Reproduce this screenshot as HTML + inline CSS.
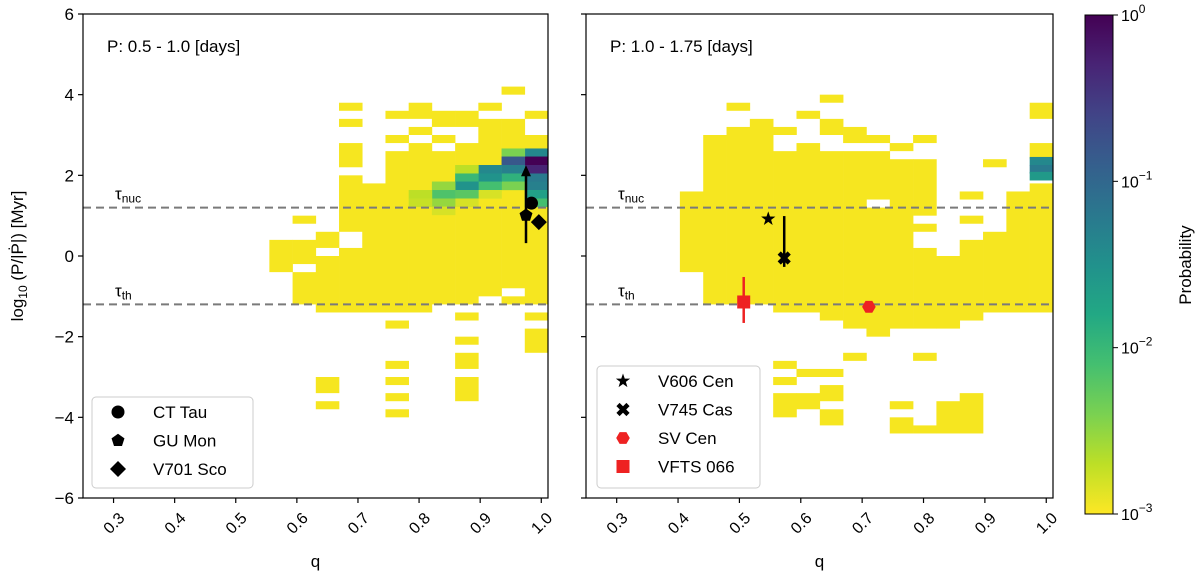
<!DOCTYPE html>
<html><head><meta charset="utf-8"><style>
html,body{margin:0;padding:0;background:#fff;}
svg{display:block;font-family:"Liberation Sans","DejaVu Sans",sans-serif;}
</style></head><body>
<svg id="chart" width="1200" height="576" viewBox="0 0 1200 576" xmlns="http://www.w3.org/2000/svg">
<defs>
<linearGradient id="cbgrad" x1="0" y1="1" x2="0" y2="0">
<stop offset="0" stop-color="#fde725"/><stop offset="0.1" stop-color="#bddf26"/><stop offset="0.2" stop-color="#7ad151"/><stop offset="0.3" stop-color="#44bf70"/><stop offset="0.4" stop-color="#22a884"/><stop offset="0.5" stop-color="#21918c"/><stop offset="0.6" stop-color="#2a788e"/><stop offset="0.7" stop-color="#355f8d"/><stop offset="0.8" stop-color="#414487"/><stop offset="0.9" stop-color="#482475"/><stop offset="1" stop-color="#440154"/>
</linearGradient>
</defs>
</svg>
<script>
// ---- data ----
const xTicks = [0.3,0.4,0.5,0.6,0.7,0.8,0.9,1.0];
const yTicks = [6,4,2,0,-2,-4,-6];
const binStart = 0.403, binWidth = 0.038;
// yellow (lowest-probability) ranges per q-bin: [binIndex, logLow, logHigh]
const leftYellow = [
 [4,-0.4,0.4],
 [5,0.8,1.0],[5,-0.2,0.4],[5,-1.2,-0.4],
 [6,0.2,0.6],[6,-1.4,0],[6,-3.4,-3.0],[6,-3.8,-3.6],
 [7,3.6,3.8],[7,3.2,3.4],[7,2.2,2.8],[7,0.6,2.0],[7,-1.4,0.2],
 [8,-1.4,1.8],
 [9,3.4,3.6],[9,2.8,3.0],[9,-1.4,2.6],[9,-1.8,-1.6],[9,-2.8,-2.6],[9,-3.2,-3.0],[9,-3.6,-3.4],[9,-4.0,-3.8],
 [10,3.4,3.8],[10,3.0,3.2],[10,-1.4,2.8],
 [11,3.2,3.6],[11,2.8,3.0],[11,-1.2,2.6],
 [12,3.2,3.6],[12,-1.2,2.8],[12,-1.6,-1.4],[12,-2.2,-2.0],[12,-2.8,-2.4],[12,-3.6,-3.0],
 [13,3.6,3.8],[13,-1.0,3.4],
 [14,4.0,4.2],[14,-0.8,3.4],[14,-1.2,-1.0],
 [15,3.4,3.6],[15,-1.2,3.0],[15,-1.6,-1.4],[15,-2.4,-1.8]
];
const rightYellow = [
 [0,-0.4,1.6],
 [1,-1.2,3.0],
 [2,3.6,3.8],[2,-1.2,3.2],
 [3,-1.2,3.4],
 [4,3.0,3.2],[4,-1.4,2.6],[4,-2.8,-2.6],[4,-3.2,-3.0],[4,-4.0,-3.4],
 [5,3.4,3.6],[5,-1.4,2.8],[5,-3.0,-2.8],[5,-3.8,-3.4],
 [6,3.8,4.0],[6,3.0,3.4],[6,-1.6,2.6],[6,-3.0,-2.8],[6,-3.6,-3.2],[6,-4.2,-3.8],
 [7,2.8,3.2],[7,-1.8,2.6],[7,-2.6,-2.4],
 [8,2.8,3.0],[8,1.4,2.6],[8,-2.0,1.2],
 [9,2.6,2.8],[9,-1.8,2.4],[9,-3.8,-3.6],[9,-4.4,-4.0],
 [10,2.8,3.0],[10,1.0,2.4],[10,0.6,0.8],[10,-1.8,0.2],[10,-2.6,-2.4],[10,-4.4,-4.2],
 [11,-1.8,0],[11,-4.4,-3.6],
 [12,1.4,1.6],[12,0.8,1.0],[12,-1.6,0.4],[12,-4.4,-3.4],
 [13,2.2,2.4],[13,-1.4,0.6],
 [14,-1.4,1.6],
 [15,3.4,3.8],[15,2.4,2.8],[15,-1.4,1.8]
];
// higher probability cells: [binIndex, logLow, probability]
const leftCells = [
 [15,2.46,0.04],[15,2.26,1.0],[15,2.05,0.5],[15,1.84,0.06],[15,1.64,0.05],[15,1.43,0.02],[15,1.22,0.008],
 [14,2.46,0.004],[14,2.26,0.15],[14,2.05,0.05],[14,1.84,0.012],[14,1.64,0.004],
 [13,2.05,0.04],[13,1.84,0.03],[13,1.64,0.008],[13,1.43,0.0015],
 [12,2.05,0.002],[12,1.84,0.01],[12,1.64,0.03],[12,1.43,0.006],[12,1.22,0.0015],
 [11,1.64,0.003],[11,1.43,0.007],[11,1.22,0.003],[11,1.02,0.0015],
 [10,1.43,0.002],[10,1.22,0.0018]
];
const rightCells = [[15,2.25,0.04],[15,2.05,0.06],[15,1.88,0.025]];
const cellHeight = 0.206;
const tauNuc = 1.2, tauTh = -1.2;
// stars
const leftStars = [
 {name:"CT Tau", q:0.984, v:1.31, shape:"circle"},
 {name:"GU Mon", q:0.975, v:1.01, shape:"pentagon", lo:0.32, hi:2.25, arrow:true},
 {name:"V701 Sco", q:0.996, v:0.84, shape:"diamond"}
];
const rightStars = [
 {name:"V606 Cen", q:0.547, v:0.92, shape:"star", color:"#000"},
 {name:"V745 Cas", q:0.573, v:-0.05, shape:"x", color:"#000", lo:-0.27, hi:0.99},
 {name:"SV Cen", q:0.711, v:-1.26, shape:"hex", color:"#ee2222"},
 {name:"VFTS 066", q:0.507, v:-1.14, shape:"square", color:"#ee2222", lo:-1.66, hi:-0.52}
];
const cbTicks = [0,-1,-2,-3];

// ---- drawing ----
const svg = document.getElementById('chart');
const NS = 'http://www.w3.org/2000/svg';
function mk(tag, attrs, parent){const e=document.createElementNS(NS,tag);for(const k in attrs)e.setAttribute(k,attrs[k]);(parent||svg).appendChild(e);return e;}
const TOP=14, BOT=498;
function yS(v){return TOP+(6-v)*(BOT-TOP)/12;}
const vir=['#440154','#482475','#414487','#355f8d','#2a788e','#21918c','#22a884','#44bf70','#7ad151','#bddf26','#fde725'];
function hx(c){return [1,3,5].map(i=>parseInt(c.substr(i,2),16));}
function color(p){let t=(Math.log10(p)+3)/3;t=Math.max(0,Math.min(1,t));let u=(1-t)*10;let i=Math.min(9,Math.floor(u));let f=u-i;let a=hx(vir[i]),b=hx(vir[i+1]);return 'rgb('+a.map((x,j)=>Math.round(x+(b[j]-x)*f)).join(',')+')';}
const YEL='#f6e620';

function panel(x0,x1,yellow,cells,stars,title,showYLabels,legendBox,pname){
  const g=mk('g',{});
  
  
  const xS=q=>x0+(q-0.25)*(x1-x0)/(1.011-0.25);
  yellow.forEach(r=>{const qa=binStart+r[0]*binWidth;const e=mk('rect',{x:xS(qa),y:yS(r[2]),width:xS(qa+binWidth)-xS(qa)+0.3,height:yS(r[1])-yS(r[2]),fill:YEL},g);
    
    });
  cells.forEach(c=>{const qa=binStart+c[0]*binWidth;const e=mk('rect',{x:xS(qa),y:yS(c[1]+cellHeight),width:xS(qa+binWidth)-xS(qa)+0.3,height:yS(c[1])-yS(c[1]+cellHeight)+0.3,fill:color(c[2])},g);
    
    });
  [[tauNuc,'nuc'],[tauTh,'th']].forEach(t=>{
    const l=mk('line',{x1:x0,x2:x1,y1:yS(t[0]),y2:yS(t[0]),stroke:'#7a7a7a','stroke-width':2,'stroke-dasharray':'8,5'},g);
    
    
    const tx=mk('text',{x:x0+32,y:yS(t[0])-8,'font-size':17,fill:'#000'},g);
    
    
    tx.innerHTML='τ<tspan font-size="12" dy="3">'+t[1]+'</tspan>';
  });
  // frame
  const fr=mk('rect',{x:x0,y:TOP,width:x1-x0,height:BOT-TOP,fill:'none',stroke:'#000','stroke-width':1.2},g);
  
  
  yTicks.forEach(v=>{mk('line',{x1:x0-5,x2:x0,y1:yS(v),y2:yS(v),stroke:'#000','stroke-width':1.2},g);
    if(showYLabels){const t=mk('text',{x:x0-9,y:yS(v)+6,'text-anchor':'end','font-size':17},g);t.textContent=v<0?'−'+(-v):String(v);
      
      }});
  xTicks.forEach(q=>{const x=xS(q);mk('line',{x1:x,x2:x,y1:BOT,y2:BOT+5,stroke:'#000','stroke-width':1.2},g);
    const t=mk('text',{x:x+3,y:BOT+12,'text-anchor':'end','font-size':16,transform:'rotate(-45 '+(x+3)+' '+(BOT+12)+')',dy:'0.8em'},g);t.textContent=q.toFixed(1);
    
    });
  const xl=mk('text',{x:(x0+x1)/2,y:567,'text-anchor':'middle','font-size':17},g);xl.textContent='q';
  
  
  const ti=mk('text',{x:x0+24,y:52,'font-size':17},g);ti.textContent=title;
  
  
  // markers
  function marker(shape,cx,cy,col,par){
    let e;
    if(shape==='circle')e=mk('circle',{cx:cx,cy:cy,r:6.5,fill:col},par);
    else if(shape==='square')e=mk('rect',{x:cx-6.5,y:cy-6.5,width:13,height:13,fill:col},par);
    else if(shape==='diamond')e=mk('polygon',{points:[[cx,cy-8],[cx+8,cy],[cx,cy+8],[cx-8,cy]].join(' '),fill:col},par);
    else{let n=shape==='pentagon'?5:shape==='hex'?6:5,pts=[];
      if(shape==='star'){for(let i=0;i<10;i++){const r=i%2?3:7.5,a=-Math.PI/2+i*Math.PI/5;pts.push([cx+r*Math.cos(a),cy+r*Math.sin(a)]);}}
      else if(shape==='x'){e=mk('path',{d:'M'+(cx-5)+' '+(cy-5)+'L'+(cx+5)+' '+(cy+5)+'M'+(cx+5)+' '+(cy-5)+'L'+(cx-5)+' '+(cy+5),stroke:col,'stroke-width':4.5},par);return e;}
      else{const r=shape==='hex'?6.8:6.8;for(let i=0;i<n;i++){const a=-Math.PI/2+i*2*Math.PI/n+(shape==='hex'?Math.PI/6:0);pts.push([cx+r*Math.cos(a),cy+r*Math.sin(a)]);}}
      e=mk('polygon',{points:pts.map(p=>p.join(',')).join(' '),fill:col},par);}
    return e;
  }
  stars.forEach(s=>{const col=s.color||'#000';const cx=xS(s.q),cy=yS(s.v);
    if(s.lo!==undefined){const l=mk('line',{x1:cx,x2:cx,y1:yS(s.lo),y2:yS(s.hi)+(s.arrow?8:0),stroke:col,'stroke-width':2.5},g);
      
      
      if(s.arrow){const h=mk('polygon',{points:cx+','+yS(s.hi)+' '+(cx-5)+','+(yS(s.hi)+11)+' '+(cx+5)+','+(yS(s.hi)+11),fill:col},g);
        
        }}
    const m=marker(s.shape,cx,cy,col,g);
    
    });
  // legend
  const lg=mk('g',{},g);
  
  
  mk('rect',{x:legendBox[0],y:legendBox[1],width:legendBox[2],height:legendBox[3],rx:4,fill:'#fff','fill-opacity':0.85,stroke:'#ccc'},lg);
  stars.forEach((s,i)=>{const cy=legendBox[1]+15+i*28.5;
    const m=marker(s.shape,legendBox[0]+26,cy,s.color||'#000',lg);
    
    
    const t=mk('text',{x:legendBox[0]+61,y:cy+6,'font-size':17},lg);t.textContent=s.name;
    
    });
}
panel(83,548,leftYellow,leftCells,leftStars,'P: 0.5 - 1.0 [days]',true,[92,397,161,91],'left-panel');
panel(586,1053,rightYellow,rightCells,rightStars,'P: 1.0 - 1.75 [days]',false,[597,366,163,122],'right-panel');

// y-axis title
const yt=mk('text',{x:0,y:0,'font-size':17,'text-anchor':'middle',transform:'translate(23,256) rotate(-90)'});


yt.innerHTML='log<tspan font-size="12" dy="4">10</tspan><tspan dy="-4"> (P/|Ṗ|) [Myr]</tspan>';

// colorbar
const CB0=15,CB1=514;
const cb=mk('rect',{x:1085,y:CB0,width:28,height:CB1-CB0,fill:'url(#cbgrad)',stroke:'#000','stroke-width':1});


cbTicks.forEach(p=>{const y=CB0+(0-p)*(CB1-CB0)/3;mk('line',{x1:1113,x2:1118,y1:y,y2:y,stroke:'#000'});
  const t=mk('text',{x:1121,y:y+6,'font-size':16});t.innerHTML='10<tspan font-size="12" dy="-8">'+(p===0?'0':'−'+(-p))+'</tspan>';
  
  });
const cl=mk('text',{x:0,y:0,'font-size':17,'text-anchor':'middle',transform:'translate(1191,265) rotate(-90)'});cl.textContent='Probability';


</script>
</body></html>
